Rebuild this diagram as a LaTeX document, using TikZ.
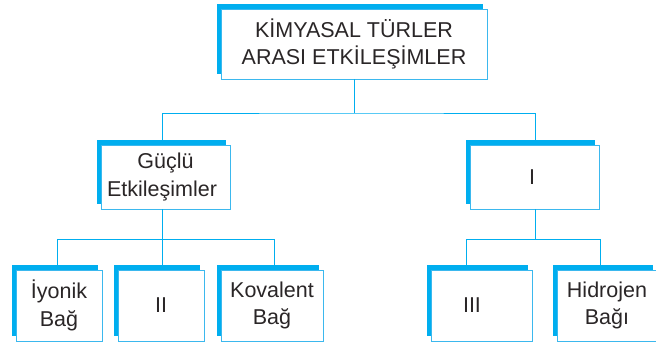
\documentclass[tikz,border=0pt]{standalone}
\usepackage{fontspec}
\setmainfont{Liberation Sans}
\usetikzlibrary{shadows}
\definecolor{cyanb}{HTML}{00AEEF}
\definecolor{boxb}{HTML}{3BB8EE}
\definecolor{txt}{HTML}{2A2627}
\tikzset{
  box/.style={draw=boxb, line width=0.9pt, fill=white, align=center, text=txt,
    inner sep=0pt, font=\fontsize{21.5}{27.3}\selectfont,
    drop shadow={shadow xshift=-4pt, shadow yshift=5.5pt, fill=cyanb, opacity=1}},
  conn/.style={draw=cyanb, line width=1pt},
}
\begin{document}
\begin{tikzpicture}[x=1pt,y=-1pt]
\useasboundingbox (0,0) rectangle (656,343);
\coordinate (b1) at (0,113);
\coordinate (b2) at (0,239);
\node[box, minimum width=266pt, minimum height=70pt] (top) at (354,44) {KİMYASAL TÜRLER\\ARASI ETKİLEŞİMLER};
\node[box, minimum width=129pt, minimum height=64pt] (gl) at (165.5,177) {Güçlü\\Etkileşimler\hspace*{7pt}};
\node[box, minimum width=129pt, minimum height=64pt] (I) at (534.5,177) {I\hspace*{5pt}};
\node[box, minimum width=86pt, minimum height=71pt] (iy) at (59,305.5) {İyonik\\Bağ};
\node[box, minimum width=86pt, minimum height=71pt] (ii) at (161,305.5) {II};
\node[box, minimum width=102pt, minimum height=71pt] (kv) at (272,305.5) {Kovalent\\Bağ};
\node[box, minimum width=101pt, minimum height=71pt] (iii) at (481.5,305.5) {III\hspace*{19pt}};
\node[box, minimum width=100pt, minimum height=71pt] (hb) at (607,305.5) {Hidrojen\\Bağı};
\draw[conn] (top.south) -- (top.south |- b1);
\draw[conn] ([xshift=-3.5pt]gl.north) |- (top.south |- b1) -| ([xshift=1.2pt]I.north);
\draw[conn] ([xshift=-3.5pt]gl.south) -- ([xshift=-3.5pt]gl.south |- b2);
\draw[conn] ([xshift=-1.7pt]iy.north) |- ([xshift=2pt]kv.north |- b2) -- ([xshift=2pt]kv.north);
\draw[conn] ([xshift=1pt]ii.north) -- ([xshift=1pt]ii.north |- b2);
\draw[conn] ([xshift=1.2pt]I.south) -- ([xshift=1.2pt]I.south |- b2);
\draw[conn] ([xshift=-14.8pt]iii.north) |- ([xshift=-7pt]hb.north |- b2) -- ([xshift=-7pt]hb.north);
\end{tikzpicture}
\end{document}
